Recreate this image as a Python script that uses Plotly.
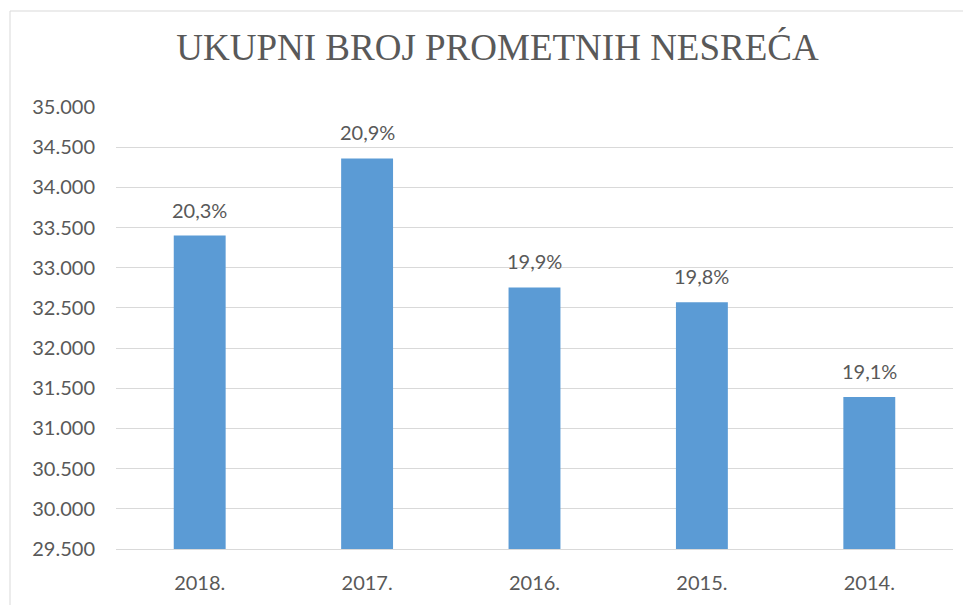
import plotly.graph_objects as go

years = ["2018.", "2017.", "2016.", "2015.", "2014."]
accidents = [33400, 34360, 32755, 32570, 31390]
shares = ["20,3%", "20,9%", "19,9%", "19,8%", "19,1%"]
y_ticks = list(range(29500, 35001, 500))

# page body has an 8px margin, so the figure is sized to fit the window
W, H = 963, 597
L, R, T, B = 108, 18, 99, 56
pw, ph = W - L - R, H - T - B

TXT = "#595959"
GRID = "#D9D9D9"
BAR = "#5B9BD5"

fig = go.Figure()
fig.add_trace(go.Bar(
    x=years, y=accidents, marker=dict(color=BAR, line=dict(color=BAR, width=0)),
    hoverinfo="x+y", showlegend=False,
))

for i, (yv, s) in enumerate(zip(accidents, shares)):
    fig.add_annotation(x=i, y=yv, text=s, showarrow=False, yanchor="bottom",
                       yshift=12, font=dict(family="Lato", size=20, color=TXT))

# chart frame border
fig.add_shape(type="rect", xref="paper", yref="paper",
              x0=(2 - L) / pw, x1=(W + 20 - L) / pw,
              y0=-(B + 20) / ph, y1=(H - B - 3) / ph,
              line=dict(color=GRID, width=1), fillcolor="rgba(0,0,0,0)", layer="below")

fig.update_layout(
    width=W, height=H,
    margin=dict(l=L, r=R, t=T, b=B, autoexpand=False),
    paper_bgcolor="white", plot_bgcolor="white",
    separators=",.",
    bargap=0.69,
    title=dict(text="UKUPNI BROJ PROMETNIH NESREĆA", x=489.5 / W, xref="container",
               xanchor="center", y=1 - 39 / H, yref="container", yanchor="middle",
               font=dict(family="Liberation Serif", size=37, color=TXT)),
    font=dict(family="Lato", size=20, color=TXT),
    xaxis=dict(type="category", categoryorder="array", categoryarray=years,
               range=[-0.5, len(years) - 0.5],
               showgrid=False, showline=True, linecolor=GRID, linewidth=1,
               ticks="", ticklabelstandoff=16, tickfont=dict(family="Lato", size=20, color=TXT),
               fixedrange=True),
    yaxis=dict(range=[29500, 35000], tickvals=y_ticks, tickformat=",d",
               showgrid=True, gridcolor=GRID, gridwidth=1, zeroline=False,
               showline=False, ticks="", ticklabelstandoff=20,
               tickfont=dict(family="Lato", size=20, color=TXT), fixedrange=True),
)

fig.write_html("out.html")
